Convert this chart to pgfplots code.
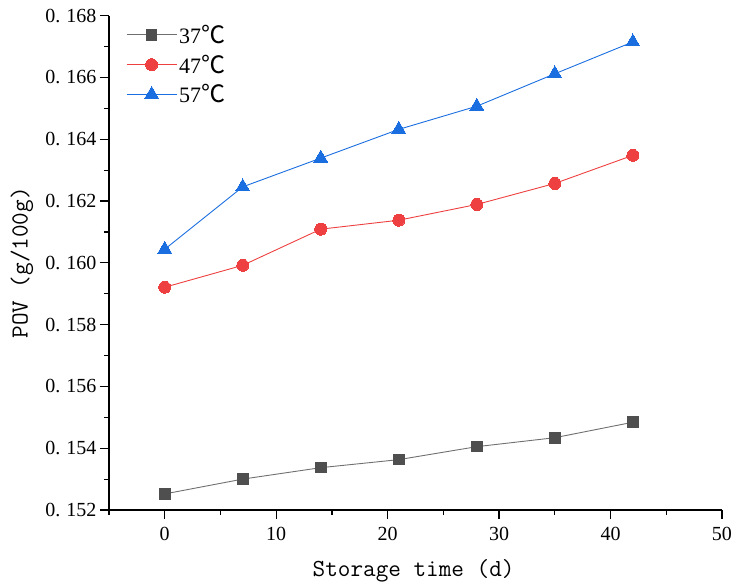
\documentclass[border=0pt]{standalone}
\usepackage{fontspec}
\setmainfont{Liberation Serif}
\usepackage{pgfplots}
\pgfplotsset{compat=1.18}
\newfontfamily\cjk{Noto Sans CJK SC}
\newcommand{\degC}{{\cjk\fontsize{24}{24}\selectfont ℃}}

\definecolor{markgray}{HTML}{4F4F4F}
\definecolor{linegray}{HTML}{707070}
\definecolor{redc}{HTML}{EE4040}
\definecolor{bluec}{HTML}{1A6EDF}

% POV values over storage time (d)
\pgfplotstableread{
t    v
0    0.15252
7    0.15300
14   0.15337
21   0.15363
28   0.15405
35   0.15434
42   0.15484
}\tabA
\pgfplotstableread{
t    v
0    0.15921
7    0.15992
14   0.16109
21   0.16138
28   0.16189
35   0.16257
42   0.16348
}\tabB
\pgfplotstableread{
t    v
0    0.16044
7    0.16246
14   0.16339
21   0.16432
28   0.16507
35   0.16612
42   0.16715
}\tabC

\newcommand{\yl}[1]{0.\kern6pt#1}

\begin{document}
\begin{tikzpicture}
\begin{axis}[
  scale only axis, width=613pt, height=494.3pt,
  xmin=-5, xmax=50, ymin=0.152, ymax=0.168,
  axis lines*=left,
  axis line style={line width=1.2pt},
  tick align=outside,
  major tick length=9pt, minor tick length=5pt,
  every tick/.style={black, line width=1.2pt},
  xtick={0,10,20,30,40,50},
  minor xtick={-5,5,15,25,35,45},
  ytick={0.152,0.154,0.156,0.158,0.160,0.162,0.164,0.166,0.168},
  yticklabels={\yl{152},\yl{154},\yl{156},\yl{158},\yl{160},\yl{162},\yl{164},\yl{166},\yl{168}},
  minor ytick={0.153,0.155,0.157,0.159,0.161,0.163,0.165,0.167},
  scaled y ticks=false,
  /pgf/number format/assume math mode=true,
  tick label style={font=\fontsize{20}{22}\selectfont},
  xticklabel style={yshift=-5pt},
  every axis x label/.style={at={(axis description cs:0.497,-0.124)}, anchor=center},
  every axis y label/.style={at={(axis description cs:-0.142,0.5)}, rotate=90, anchor=center},
  label style={font=\ttfamily\fontsize{24.5}{26}\selectfont},
  xlabel={Storage time (d)},
  ylabel={POV (g/100g)},
  legend style={draw=none, fill=none, at={(rel axis cs:0,1)}, anchor=north west,
    xshift=14pt, yshift=-5pt,
    font=\fontsize{22}{24}\selectfont, row sep=6pt,
    legend cell align=left},
  legend image code/.code={
    \draw[mark repeat=2, mark phase=2] plot coordinates {(0pt,0pt) (25pt,0pt) (50pt,0pt)};},
]
\addplot[linegray, line width=0.9pt, mark=square*, mark size=5.3pt,
  mark options={fill=markgray, draw=markgray, line width=0pt}] table[x=t, y=v] {\tabA};
\addlegendentry{37\degC}
\addplot[redc, line width=0.9pt, mark=*, mark size=6pt,
  mark options={fill=redc, draw=redc, line width=0pt}] table[x=t, y=v] {\tabB};
\addlegendentry{47\degC}
\addplot[bluec, line width=0.9pt, mark=triangle*, mark size=8pt,
  mark options={fill=bluec, draw=bluec, line width=0pt}] table[x=t, y=v] {\tabC};
\addlegendentry{57\degC}
\end{axis}
\pgfresetboundingbox
\path (-109pt,-75pt) rectangle (625pt,510pt);
\end{tikzpicture}
\end{document}
